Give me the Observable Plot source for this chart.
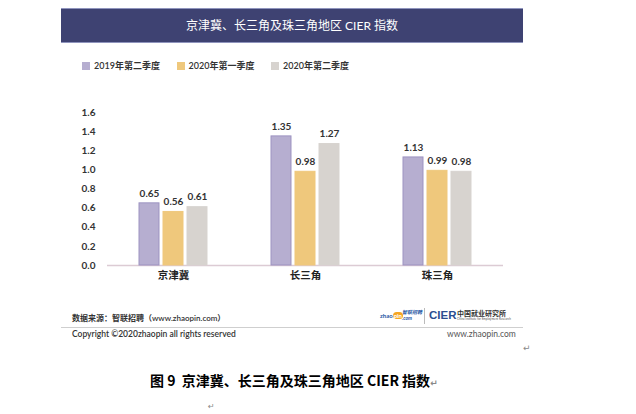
<!DOCTYPE html>
<html>
<head>
<meta charset="utf-8">
<script src="https://cdn.jsdelivr.net/npm/d3@7"></script>
<script src="https://cdn.jsdelivr.net/npm/@observablehq/plot@0.6"></script>
<style>
  html, body { margin: 0; padding: 0; background: #fff; }
  body { width: 636px; height: 414px; position: relative; overflow: hidden;
         font-family: Lato, "Noto Sans CJK SC", sans-serif; }
  .abs { position: absolute; white-space: nowrap; }
  #banner { left: 61px; top: 8px; width: 462px; height: 33px; background: #3e4272;
            border-top: 1px solid #8f94bd; border-bottom: 1px solid #8f94bd;
            color: #fff; font-size: 12px; line-height: 33px; text-align: center; }
  #legend { left: 82px; top: 60px; font-size: 9px; color: #333; font-weight: 600; }
  .item { display: inline-block; width: 94.5px; line-height: 12px; }
  .sw { display: inline-block; width: 8px; height: 8px; margin-right: 4px; vertical-align: -1px; }
  #chart { left: 0; top: 95px; }
  .src { font-size: 8.5px; color: #333; font-weight: 600; }
  .mark { color: #888; font-size: 9px; font-family: "DejaVu Sans", sans-serif; }
</style>
</head>
<body>
<div id="banner" class="abs">京津冀、长三角及珠三角地区 CIER 指数</div>
<div id="legend" class="abs"></div>
<div id="chart" class="abs"></div>

<div class="abs src" style="left:72px; top:312px; font-size:8px;">数据来源：智联招聘（www.zhaopin.com）</div>
<div class="abs" style="left:61px; top:327px; width:462px; height:1px; background:#cfcfcf;"></div>
<div class="abs src" style="left:72px; top:329px;">Copyright ©2020zhaopin all rights reserved</div>
<div class="abs" style="left:447px; top:329px; font-size:8.5px; color:#555;">www.zhaopin.com</div>

<div class="abs" style="left:380px; top:309px; font-size:6px; font-weight:bold; color:#2656a3; line-height:14px;">zhao<span style="background:#f5a623; color:#fff; border-radius:4px; padding:0 1px;">pin</span></div>
<div class="abs" style="left:402px; top:309px; font-size:5px; font-weight:bold; font-style:italic; color:#2656a3; line-height:6px;">智联招聘<br>.com</div>
<div class="abs" style="left:424px; top:308px; width:1px; height:16px; background:#bbb;"></div>
<div class="abs" style="left:429px; top:308px; font-size:11.5px; font-weight:bold; color:#2a4d8f; line-height:15px; font-family:Arial, 'Liberation Sans', sans-serif;">CIER</div>
<div class="abs" style="left:457px; top:309px; font-size:7px; font-weight:bold; color:#333; line-height:8px;">中国就业研究所</div>
<div class="abs" style="left:457px; top:317px; font-size:3px; color:#555; line-height:4px;">China Institute for Employment Research</div>

<div class="abs mark" style="left:523px; top:343px;">↵</div>
<div class="abs" style="left:150px; top:370px; font-size:14px; font-weight:bold; color:#000; font-family:'Noto Sans CJK SC', sans-serif; line-height:20px;">图 9&nbsp; 京津冀、长三角及珠三角地区 CIER 指数<span class="mark">↵</span></div>
<div class="abs mark" style="left:208px; top:402px; font-size:8px;">↵</div>

<script>
// ---- data ----
const regions = ["京津冀", "长三角", "珠三角"];
const seriesNames = ["2019年第二季度", "2020年第一季度", "2020年第二季度"];
const q2_2019 = [0.65, 1.35, 1.13];
const q1_2020 = [0.56, 0.98, 0.99];
const q2_2020 = [0.61, 1.27, 0.98];
const yTicks = [0, 0.2, 0.4, 0.6, 0.8, 1.0, 1.2, 1.4, 1.6];
const fillColors = ["#b6aed0", "#efc87c", "#d7d3cf"];
const strokeColors = ["#9d93c1", "#efc87c", "#d7d3cf"];

// ---- table for Plot ----
const seriesValues = [q2_2019, q1_2020, q2_2020];
const rows = [];
regions.forEach((r, i) => {
  seriesNames.forEach((s, j) => {
    rows.push({ region: r, series: s, value: seriesValues[j][i] });
  });
});

// ---- legend ----
const legend = document.getElementById("legend");
seriesNames.forEach((s, j) => {
  const item = document.createElement("span");
  item.className = "item";
  const sw = document.createElement("span");
  sw.className = "sw";
  sw.style.background = fillColors[j];
  item.appendChild(sw);
  item.appendChild(document.createTextNode(s));
  legend.appendChild(item);
});

// ---- chart ----
const chart = Plot.plot({
  width: 636,
  height: 195,
  marginLeft: 107,
  marginRight: 133,
  marginTop: 17,
  marginBottom: 25,
  style: { fontFamily: "Lato, 'Noto Sans CJK SC', sans-serif", fontSize: "10px", color: "#333", background: "transparent" },
  fx: { domain: regions, paddingInner: 0, paddingOuter: 0, axis: "bottom", tickSize: 0, tickPadding: 6, label: null },
  x: { domain: seriesNames, axis: null, paddingInner: 0.15, paddingOuter: 1.32 },
  y: { domain: [0, 1.6], ticks: yTicks, tickFormat: d3.format(".1f"), tickSize: 0, tickPadding: 12, label: null, grid: false },
  color: { domain: seriesNames, range: fillColors },
  marks: [
    Plot.ruleY([0], { stroke: "#dccbd4", strokeWidth: 1.5 }),
    Plot.barY(rows, {
      fx: "region", x: "series", y: "value",
      fill: "series",
      stroke: d => strokeColors[seriesNames.indexOf(d.series)],
      strokeWidth: 1
    }),
    Plot.text(rows, {
      fx: "region", x: "series", y: "value",
      text: d => d.value.toFixed(2),
      dy: -10, fontWeight: "bold", fontSize: 10, fill: "#333"
    })
  ]
});
// style the axis texts
chart.querySelectorAll("[aria-label='y-axis tick label']").forEach(n => n.setAttribute("font-weight", "bold"));
chart.querySelectorAll("[aria-label='fx-axis tick label']").forEach(n => { n.setAttribute("font-weight", "bold"); n.setAttribute("font-size", "10.5"); n.setAttribute("fill", "#222"); });
document.getElementById("chart").appendChild(chart);
</script>
</body>
</html>
